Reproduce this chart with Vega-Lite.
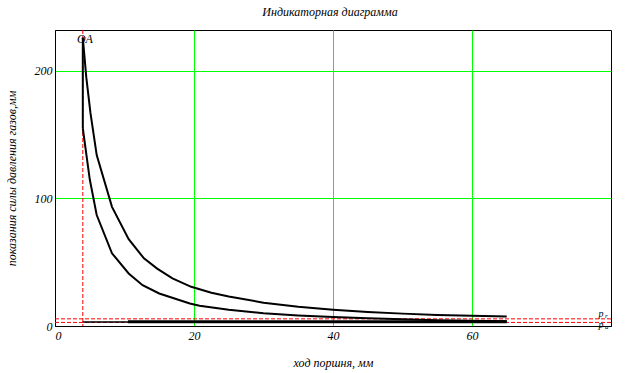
{
  "$schema": "https://vega.github.io/schema/vega-lite/v6.json",
  "width": 556,
  "height": 296,
  "autosize": {"type": "none"},
  "padding": {"left": 55, "top": 30, "right": 17, "bottom": 47},
  "background": "white",
  "title": {"text": "Индикаторная диаграмма", "font": "Liberation Serif", "fontStyle": "italic", "fontWeight": "normal", "fontSize": 12, "color": "black", "offset": 11, "anchor": "middle", "dx": -3},
  "config": {
    "view": {"stroke": "black", "strokeWidth": 1},
    "axis": {"domainColor": "black", "domainWidth": 1, "ticks": false, "labelFont": "Liberation Serif", "labelFontStyle": "italic", "labelFontSize": 12, "labelColor": "black", "titleFont": "Liberation Serif", "titleFontStyle": "italic", "titleFontWeight": "normal", "titleFontSize": 12, "titleColor": "black", "gridColor": "#00ff00", "gridWidth": 1, "grid": true},
    "axisX": {"labelPadding": 4, "titleY": 40, "titleBaseline": "alphabetic"},
    "axisY": {"labelPadding": 3, "titleX": -40, "titleY": 148, "titleAngle": -90, "titleBaseline": "alphabetic", "titleAlign": "center"}
  },
  "datasets": {
    "curves": [
      {"s": "z", "o": 1, "x": 4, "y": 155},
      {"s": "z", "o": 2, "x": 4, "y": 226},
      {"s": "exp", "o": 1, "x": 4, "y": 226},
      {"s": "exp", "o": 2, "x": 4.5, "y": 195},
      {"s": "exp", "o": 3, "x": 5.1, "y": 167},
      {"s": "exp", "o": 4, "x": 6, "y": 134},
      {"s": "exp", "o": 5, "x": 8.2, "y": 93.4},
      {"s": "exp", "o": 6, "x": 10.6, "y": 68},
      {"s": "exp", "o": 7, "x": 12.8, "y": 53},
      {"s": "exp", "o": 8, "x": 14.7, "y": 45},
      {"s": "exp", "o": 9, "x": 16.9, "y": 37.3},
      {"s": "exp", "o": 10, "x": 19.6, "y": 30.7},
      {"s": "exp", "o": 11, "x": 22.5, "y": 26},
      {"s": "exp", "o": 12, "x": 25, "y": 23.2},
      {"s": "exp", "o": 13, "x": 30, "y": 18.3},
      {"s": "exp", "o": 14, "x": 35, "y": 15.0},
      {"s": "exp", "o": 15, "x": 40, "y": 12.8},
      {"s": "exp", "o": 16, "x": 45, "y": 11.0},
      {"s": "exp", "o": 17, "x": 50, "y": 9.7},
      {"s": "exp", "o": 18, "x": 55, "y": 8.7},
      {"s": "exp", "o": 19, "x": 60, "y": 8.0},
      {"s": "exp", "o": 20, "x": 65, "y": 7.5},
      {"s": "comp", "o": 1, "x": 4, "y": 155},
      {"s": "comp", "o": 2, "x": 5, "y": 115},
      {"s": "comp", "o": 3, "x": 6, "y": 87},
      {"s": "comp", "o": 4, "x": 8.2, "y": 57},
      {"s": "comp", "o": 5, "x": 10.6, "y": 41.2},
      {"s": "comp", "o": 6, "x": 12.6, "y": 32},
      {"s": "comp", "o": 7, "x": 15, "y": 25.5},
      {"s": "comp", "o": 8, "x": 19.4, "y": 17.7},
      {"s": "comp", "o": 9, "x": 20.8, "y": 15.9},
      {"s": "comp", "o": 10, "x": 25, "y": 12.8},
      {"s": "comp", "o": 11, "x": 30, "y": 10.0},
      {"s": "comp", "o": 12, "x": 35, "y": 8.3},
      {"s": "comp", "o": 13, "x": 40, "y": 7.0},
      {"s": "comp", "o": 14, "x": 45, "y": 6.0},
      {"s": "comp", "o": 15, "x": 50, "y": 5.2},
      {"s": "comp", "o": 16, "x": 55, "y": 4.6},
      {"s": "comp", "o": 17, "x": 60, "y": 4.1},
      {"s": "comp", "o": 18, "x": 65, "y": 3.7}
    ],
    "thin": [
      {"s": "in", "x": 4, "y": 3.2},
      {"s": "in", "x": 10.5, "y": 3.2}
    ],
    "thick": [
      {"s": "ex", "x": 10.5, "y": 3.3},
      {"s": "ex", "x": 65, "y": 3.3}
    ],
    "hrefs": [{"y": 5.6}, {"y": 2.8}],
    "vrefs": [{"x": 4}],
    "oa": [{"x": 4.3, "y": 225, "t": "OA"}],
    "plabels": [
      {"x": 78.2, "y": 9.4, "t": "p", "sub": "r"},
      {"x": 78.2, "y": 0.5, "t": "p", "sub": "a"}
    ]
  },
  "layer": [
    {
      "data": {"name": "vrefs"},
      "mark": {"type": "rule", "color": "red", "strokeWidth": 1, "strokeDash": [4, 2]},
      "encoding": {
        "x": {"field": "x", "type": "quantitative", "scale": {"domain": [0, 80], "nice": false}, "title": "ход поршня, мм", "axis": {"values": [0, 20, 40, 60], "gridOpacity": {"condition": {"test": "datum.value === 0", "value": 0}, "value": 1}}}
      }
    },
    {
      "data": {"name": "hrefs"},
      "mark": {"type": "rule", "color": "red", "strokeWidth": 1, "strokeDash": [4, 2]},
      "encoding": {
        "y": {"field": "y", "type": "quantitative", "scale": {"domain": [0, 232], "nice": false}, "title": "показания силы давления газов,мм", "axis": {"values": [0, 100, 200], "gridOpacity": {"condition": {"test": "datum.value === 0", "value": 0}, "value": 1}}}
      }
    },
    {
      "data": {"name": "curves"},
      "mark": {"type": "line", "color": "black", "strokeWidth": 2},
      "encoding": {
        "x": {"field": "x", "type": "quantitative", "scale": {"domain": [0, 80], "nice": false}, "title": "ход поршня, мм", "axis": {"values": [0, 20, 40, 60], "gridOpacity": {"condition": {"test": "datum.value === 0", "value": 0}, "value": 1}}},
        "y": {"field": "y", "type": "quantitative", "scale": {"domain": [0, 232], "nice": false}, "title": "показания силы давления газов,мм", "axis": {"values": [0, 100, 200], "gridOpacity": {"condition": {"test": "datum.value === 0", "value": 0}, "value": 1}}},
        "detail": {"field": "s"},
        "order": {"field": "o", "type": "quantitative"}
      }
    },
    {
      "data": {"name": "thin"},
      "mark": {"type": "line", "color": "black", "strokeWidth": 1.5},
      "encoding": {
        "x": {"field": "x", "type": "quantitative", "scale": {"domain": [0, 80], "nice": false}, "title": "ход поршня, мм"},
        "y": {"field": "y", "type": "quantitative", "scale": {"domain": [0, 232], "nice": false}, "title": "показания силы давления газов,мм"}
      }
    },
    {
      "data": {"name": "thick"},
      "mark": {"type": "line", "color": "black", "strokeWidth": 3},
      "encoding": {
        "x": {"field": "x", "type": "quantitative", "scale": {"domain": [0, 80], "nice": false}, "title": "ход поршня, мм"},
        "y": {"field": "y", "type": "quantitative", "scale": {"domain": [0, 232], "nice": false}, "title": "показания силы давления газов,мм"}
      }
    },
    {
      "data": {"name": "oa"},
      "mark": {"type": "text", "font": "Liberation Serif", "fontStyle": "italic", "fontSize": 12, "color": "black", "align": "center", "baseline": "middle"},
      "encoding": {
        "x": {"field": "x", "type": "quantitative", "scale": {"domain": [0, 80], "nice": false}, "title": "ход поршня, мм"},
        "y": {"field": "y", "type": "quantitative", "scale": {"domain": [0, 232], "nice": false}, "title": "показания силы давления газов,мм"},
        "text": {"field": "t"}
      }
    },
    {
      "data": {"name": "plabels"},
      "mark": {"type": "text", "font": "Liberation Serif", "fontStyle": "italic", "fontSize": 10, "color": "black", "align": "left", "baseline": "middle"},
      "encoding": {
        "x": {"field": "x", "type": "quantitative", "scale": {"domain": [0, 80], "nice": false}, "title": "ход поршня, мм"},
        "y": {"field": "y", "type": "quantitative", "scale": {"domain": [0, 232], "nice": false}, "title": "показания силы давления газов,мм"},
        "text": {"field": "t"}
      }
    },
    {
      "data": {"name": "plabels"},
      "mark": {"type": "text", "font": "Liberation Serif", "fontStyle": "italic", "fontSize": 7, "color": "black", "align": "left", "baseline": "middle", "dx": 6.5, "dy": 2},
      "encoding": {
        "x": {"field": "x", "type": "quantitative", "scale": {"domain": [0, 80], "nice": false}, "title": "ход поршня, мм"},
        "y": {"field": "y", "type": "quantitative", "scale": {"domain": [0, 232], "nice": false}, "title": "показания силы давления газов,мм"},
        "text": {"field": "sub"}
      }
    }
  ]
}
